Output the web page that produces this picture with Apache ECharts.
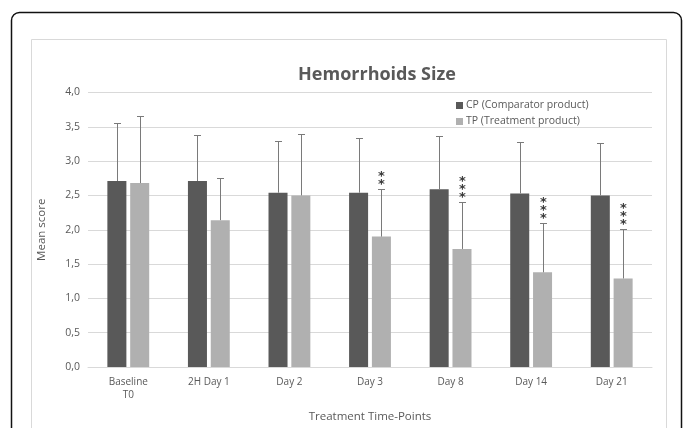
<!DOCTYPE html>
<html>
<head>
    <meta charset="UTF-8">
    <title>Hemorrhoids Size</title>
    <script src="https://cdn.jsdelivr.net/npm/echarts@6/dist/echarts.min.js"></script>
    <style>
        html, body { margin: 0; padding: 0; background: #fff; }
        #chart { width: 683px; height: 428px; }
    </style>
</head>
<body>
<div id="chart"></div>
<script type="text/javascript">
    var categories = ['Baseline\nT0', '2H Day 1', 'Day 2', 'Day 3', 'Day 8', 'Day 14', 'Day 21'];
    var cpMean = [2.71, 2.71, 2.54, 2.54, 2.59, 2.53, 2.50];
    var tpMean = [2.68, 2.14, 2.50, 1.90, 1.72, 1.38, 1.29];
    var cpErrTop = [3.56, 3.38, 3.29, 3.34, 3.37, 3.28, 3.27];
    var tpErrTop = [3.66, 2.75, 3.40, 2.60, 2.41, 2.10, 2.01];
    var tpStars = ['', '', '', '**', '***', '***', '***'];

    var FONT = '"Open Sans", "Noto Sans", sans-serif';
    var TXT = '#595959';
    var BAR_W = 0.236;   // fraction of category band
    var GAP = 0.2;       // fraction of bar width

    // side: -1 for CP, +1 for TP
    function errorSeries(name, tops, means, side, stars) {
        var data = [];
        for (var i = 0; i < tops.length; i++) {
            data.push([i, means[i], tops[i], stars ? stars[i] : '']);
        }
        return {
            name: name + ' err',
            type: 'custom',
            z: 5,
            tooltip: {show: false},
            data: data,
            renderItem: function (params, api) {
                var band = api.size([1, 0])[0];
                var w = band * BAR_W;
                var off = side * (w / 2 + w * GAP / 2);
                var base = api.coord([api.value(0), api.value(1)]);
                var top = api.coord([api.value(0), api.value(2)]);
                var x = Math.round(base[0] + off) + 0.5;
                var y = Math.round(top[1]) + 0.5;
                var children = [
                    {type: 'line', shape: {x1: x, y1: base[1], x2: x, y2: y},
                        style: {stroke: '#7a7a7a', lineWidth: 1}},
                    {type: 'line', shape: {x1: x - 3.5, y1: y, x2: x + 3.5, y2: y},
                        style: {stroke: '#7a7a7a', lineWidth: 1}}
                ];
                var s = api.value(3);
                if (s) {
                    for (var k = 0; k < s.length; k++) {
                        children.push({
                            type: 'text',
                            style: {
                                x: x, y: y - 5 - k * 8,
                                text: '*', fill: '#3a3a3a',
                                font: 'bold 13px "DejaVu Sans", sans-serif',
                                align: 'center', verticalAlign: 'middle'
                            }
                        });
                    }
                }
                return {type: 'group', children: children};
            }
        };
    }

    var chart = echarts.init(document.getElementById('chart'));
    chart.setOption({
        animation: false,
        backgroundColor: '#fff',
        graphic: [
            {type: 'rect', shape: {x: 11.5, y: 12.5, width: 670, height: 460, r: 8},
                style: {fill: 'none', stroke: '#111', lineWidth: 1.5}, z: -10},
            {type: 'rect', shape: {x: 31.5, y: 39.5, width: 635, height: 440},
                style: {fill: 'none', stroke: '#d9d9d9', lineWidth: 1}, z: -10}
        ],
        title: {
            text: 'Hemorrhoids Size',
            left: 372, textAlign: 'center',
            top: 61,
            textStyle: {fontFamily: FONT, fontSize: 18, fontWeight: 'bold', color: TXT}
        },
        legend: {
            orient: 'vertical',
            left: 451, top: 95,
            itemWidth: 7, itemHeight: 7, itemGap: 5,
            icon: 'rect',
            data: ['CP (Comparator product)', 'TP (Treatment product)'],
            textStyle: {fontFamily: FONT, fontSize: 10.5, color: TXT, padding: [0, 0, 0, -2]}
        },
        grid: {left: 88, right: 31, top: 92.5, bottom: 53, containLabel: false},
        xAxis: {
            type: 'category',
            data: categories,
            name: 'Treatment Time-Points',
            nameLocation: 'middle',
            nameGap: 44,
            nameTextStyle: {fontFamily: FONT, fontSize: 11.5, color: TXT},
            axisLine: {lineStyle: {color: '#d9d9d9'}},
            axisTick: {show: false},
            axisLabel: {fontFamily: FONT, fontSize: 10, color: TXT, margin: 9, lineHeight: 13}
        },
        yAxis: {
            type: 'value',
            min: 0, max: 4, interval: 0.5,
            name: 'Mean score',
            nameLocation: 'middle',
            nameGap: 40,
            nameTextStyle: {fontFamily: FONT, fontSize: 11.5, color: TXT},
            axisLine: {show: false},
            axisTick: {show: false},
            splitLine: {lineStyle: {color: '#d9d9d9'}},
            axisLabel: {
                fontFamily: FONT, fontSize: 10.5, color: TXT, margin: 8,
                formatter: function (v) { return v.toFixed(1).replace('.', ','); }
            }
        },
        series: [
            {
                name: 'CP (Comparator product)', type: 'bar',
                data: cpMean, barWidth: (BAR_W * 100) + '%', barGap: (GAP * 100) + '%',
                itemStyle: {color: '#595959'}
            },
            {
                name: 'TP (Treatment product)', type: 'bar',
                data: tpMean, barWidth: (BAR_W * 100) + '%', barGap: (GAP * 100) + '%',
                itemStyle: {color: '#b0b0b0'}
            },
            errorSeries('CP', cpErrTop, cpMean, -1, null),
            errorSeries('TP', tpErrTop, tpMean, 1, tpStars)
        ]
    });
</script>
</body>
</html>
